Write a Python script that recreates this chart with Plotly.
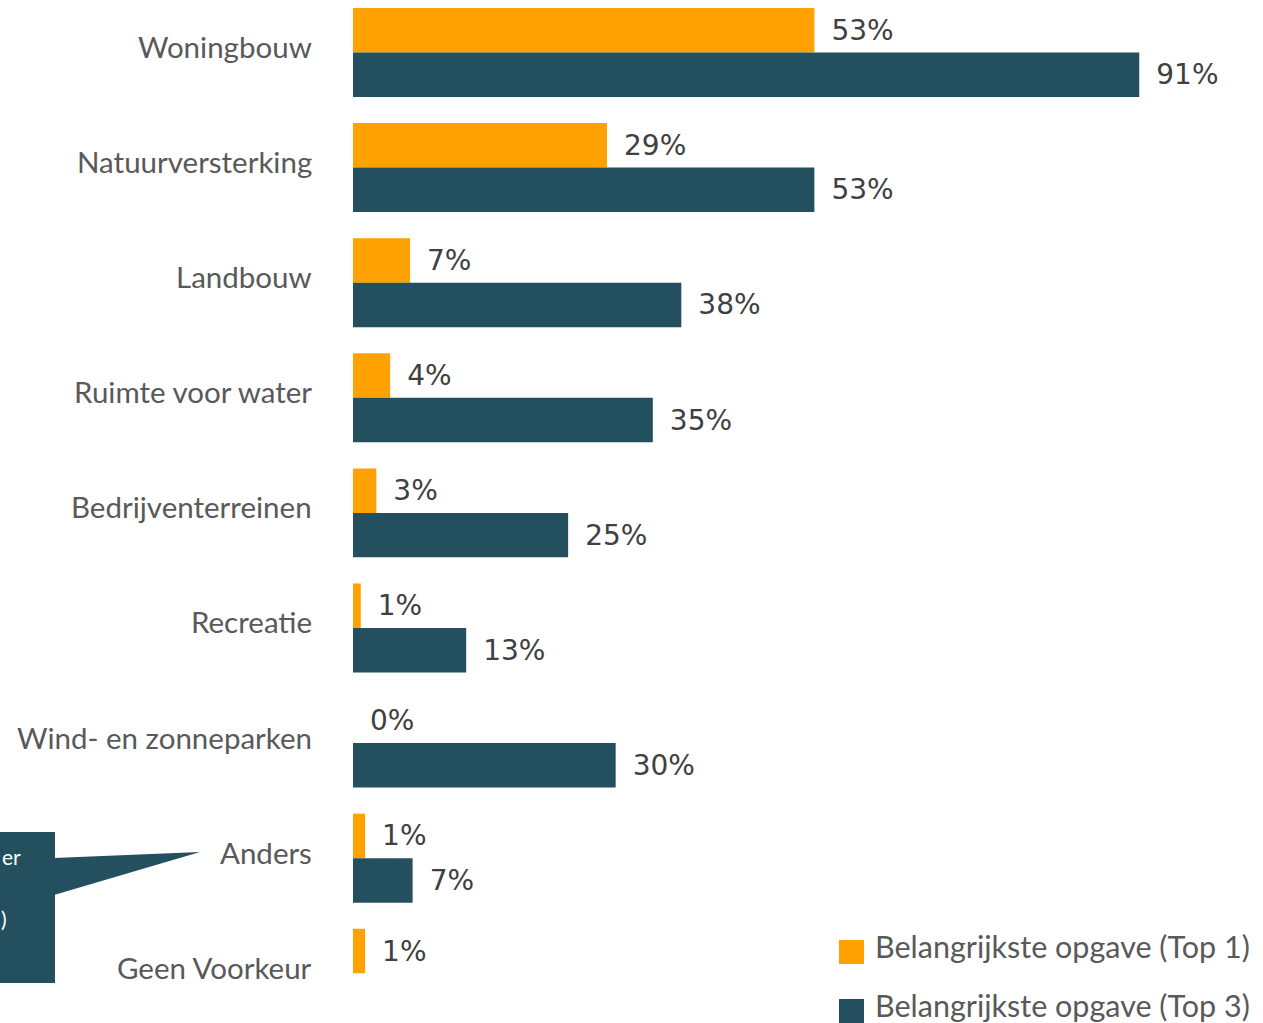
import plotly.graph_objects as go

categories = ["Woningbouw", "Natuurversterking", "Landbouw", "Ruimte voor water",
              "Bedrijventerreinen", "Recreatie", "Wind- en zonneparken", "Anders", "Geen Voorkeur"]
top1 = [53.4, 29.4, 6.6, 4.3, 2.7, 0.9, 0.0, 1.4, 1.4]
top3 = [91.0, 53.4, 38.0, 34.7, 24.9, 13.1, 30.4, 6.9, None]
series_names = ["Belangrijkste opgave (Top 1)", "Belangrijkste opgave (Top 3)"]
colors = ["#FFA100", "#234F5E"]

W, H = 1263, 1023
ML, MR = 353, 46
PW = W - ML - MR
LABEL_FONT = "Lato"
NUM_FONT = "DejaVu Sans"

def px(x):
    return (x - ML) / PW

def py(y):
    return 1 - y / H

fig = go.Figure()
for name, vals, col in zip(series_names, [top1, top3], colors):
    fig.add_trace(go.Bar(
        y=categories, x=vals, orientation="h", name=name,
        marker=dict(color=col, line=dict(width=0)),
        texttemplate="\u2002%{x:.0f}%", textposition="outside",
        textfont=dict(size=28, color="#404040", family=NUM_FONT),
        cliponaxis=False, constraintext="none", showlegend=False,
    ))

fig.update_layout(
    width=W, height=H,
    margin=dict(l=ML, r=MR, t=0, b=0),
    paper_bgcolor="white", plot_bgcolor="white",
    barmode="group", bargap=0.227, bargroupgap=0,
    font=dict(family=LABEL_FONT),
    xaxis=dict(range=[0, 100], visible=False),
    yaxis=dict(type="category", categoryorder="array", categoryarray=categories,
               range=[8.432, -0.456], showgrid=False, zeroline=False, showline=False,
               ticks="", showticklabels=False),
)

annotations = []
# Category labels
for c in categories:
    annotations.append(dict(xref="paper", yref="y", x=px(314), y=c, text=c, showarrow=False,
                            xanchor="right", yanchor="middle", yshift=6,
                            font=dict(size=29.5, color="#595959", family=LABEL_FONT)))

# Callout box (partly cut off on the left)
shapes = [
    dict(type="rect", xref="paper", yref="paper", x0=px(-20), x1=px(55), y0=py(983), y1=py(832),
         fillcolor="#234F5E", line=dict(width=0), layer="above"),
    dict(type="path", xref="paper", yref="paper",
         path=f"M {px(54)} {py(858)} L {px(200)} {py(852)} L {px(54)} {py(895)} Z",
         fillcolor="#234F5E", line=dict(width=0), layer="above"),
]
# Manual legend squares
legend_rows = [(940, 964), (999, 1023)]
for (y0, y1), col in zip(legend_rows, colors):
    shapes.append(dict(type="rect", xref="paper", yref="paper", x0=px(839), x1=px(864),
                       y0=py(y1), y1=py(y0), fillcolor=col, line=dict(width=0)))
fig.update_layout(shapes=shapes)

annotations += [
    dict(xref="paper", yref="paper", x=px(23), y=py(856), text="er", showarrow=False,
         xanchor="right", yanchor="middle", font=dict(size=21, color="white", family=LABEL_FONT)),
    dict(xref="paper", yref="paper", x=px(9), y=py(918), text=")", showarrow=False,
         xanchor="right", yanchor="middle", font=dict(size=21, color="white", family=LABEL_FONT)),
]
for (y0, y1), name in zip(legend_rows, series_names):
    annotations.append(dict(xref="paper", yref="paper", x=px(873), y=py((y0 + y1) / 2 - 6),
                            text=name, showarrow=False, xanchor="left", yanchor="middle",
                            font=dict(size=30.5, color="#595959", family=LABEL_FONT)))
fig.update_layout(annotations=annotations)

fig.write_html("out.html", config={"displayModeBar": False},
               post_script="document.body.style.margin='0';document.body.style.overflow='hidden';")
